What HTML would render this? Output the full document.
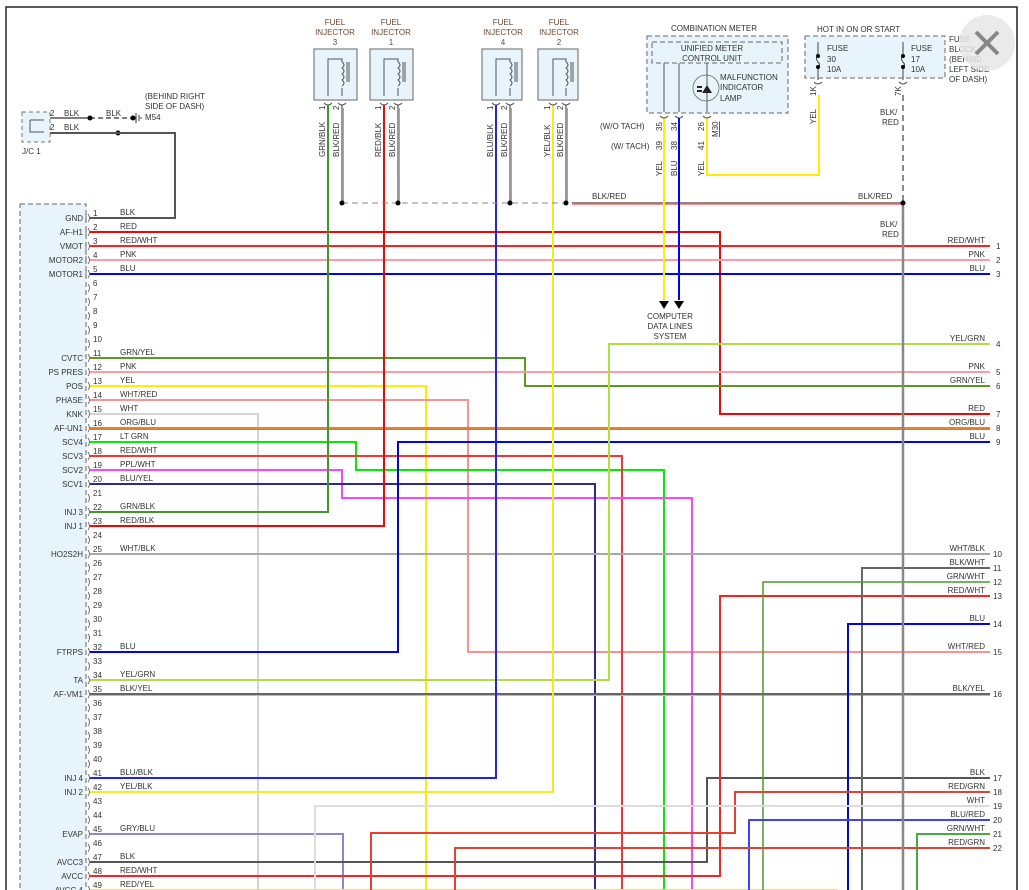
<!DOCTYPE html>
<html><head><meta charset="utf-8"><style>
html,body{margin:0;padding:0;background:#fff;}
svg{display:block;font-family:"Liberation Sans",sans-serif;}
text{font-size:8px;fill:#333;}
.w{fill:none;stroke-width:2;}
.hd{fill:#6a4a30;text-anchor:middle;}
.r{text-anchor:end;}
</style></head><body>
<svg width="1029" height="890" viewBox="0 0 1029 890" xmlns="http://www.w3.org/2000/svg">
<rect x="0" y="0" width="1029" height="890" fill="#fff"/>
<path d="M6 890 V7 H1017 V890" fill="none" stroke="#222" stroke-width="1.5"/>

<!-- J/C 1 -->
<rect x="22" y="112" width="28" height="30" fill="#e8f4fc" stroke="#777" stroke-dasharray="4,3"/>
<path d="M30 120 V132 H44 M30 120 H44" fill="none" stroke="#555"/>
<text x="50" y="116">2</text><text x="50" y="130">2</text>
<text x="64" y="116">BLK</text><text x="64" y="130">BLK</text>
<text x="106" y="116">BLK</text>
<text x="22" y="154">J/C 1</text>
<path d="M50 118 H90" stroke="#555" stroke-width="1.5"/>
<path d="M90 118 H133" stroke="#555" stroke-width="1.5" stroke-dasharray="5,3"/>
<circle cx="90" cy="118" r="2.5" fill="#000"/><circle cx="133" cy="118" r="2.5" fill="#000"/>
<path d="M136 113 V123 M139 115 V121 M141 117 V119" stroke="#333"/>
<text x="145" y="99">(BEHIND RIGHT</text><text x="145" y="109">SIDE OF DASH)</text><text x="145" y="120">M54</text>
<circle cx="118" cy="133" r="2.5" fill="#000"/>

<!-- PCM box -->
<rect x="20" y="204" width="66" height="700" fill="#e8f4fc" stroke="#666" stroke-dasharray="5,3"/>

<!-- wires -->
<g class="w">
<path d="M50 133 H175 V218 H90" stroke="#555"/>
<path d="M90 232 H720 V414 H990" stroke="#ff0000"/>
<path d="M90 246 H990" stroke="#ff2020"/>
<path d="M90 260 H990" stroke="#ff9aa8"/>
<path d="M90 274 H990" stroke="#0000ff"/>
<path d="M90 358 H525 V386 H990" stroke="#5a9a20"/>
<path d="M90 372 H990" stroke="#ff9aa8"/>
<path d="M90 386 H426 V890" stroke="#ffee00"/>
<path d="M90 400 H468 V652 H990" stroke="#ff9090"/>
<path d="M90 414 H258 V890" stroke="#d4d4d4"/>
<path d="M90 428 H990" stroke="#e88030"/>
<path d="M90 429.5 H990" stroke="#8080ff" stroke-width="1"/>
<path d="M90 442 H356 V470 H664 V890" stroke="#00ee00"/>
<path d="M90 456 H622 V890" stroke="#ff3030"/>
<path d="M90 470 H342 V498 H692 V890" stroke="#ff44ff"/>
<path d="M90 484 H595 V890" stroke="#2a2a90"/>
<path d="M90 512 H328 V105" stroke="#3a9a2a"/>
<path d="M90 526 H384 V105" stroke="#ff0000"/>
<path d="M90 554 H990" stroke="#a8a8a8"/>
<path d="M90 652 H398 V442 H990" stroke="#0000ff"/>
<path d="M90 680 H609 V344 H990" stroke="#b0e040"/>
<path d="M90 694 H990" stroke="#666"/>
<path d="M90 695.5 H990" stroke="#cccc30" stroke-width="1"/>
<path d="M90 778 H496 V105" stroke="#2020ff"/>
<path d="M90 792 H553 V105" stroke="#eeee20"/>
<path d="M90 834 H343 V890" stroke="#8888cc"/>
<path d="M90 862 H707 V778 H990" stroke="#555"/>
<path d="M90 876 H720 V596 H990" stroke="#ff2020"/>
<path d="M90 890 H838" stroke="#eeee20"/>
<path d="M990 568 H862 V890" stroke="#666"/>
<path d="M990 582 H763 V890" stroke="#4a9a2a" stroke-width="1.5"/>
<path d="M990 624 H848 V890" stroke="#0000ff"/>
<path d="M990 792 H735 V833 H371 V890" stroke="#e84030"/>
<path d="M990 806 H315 V890" stroke="#dcdcdc"/>
<path d="M990 820 H749 V890" stroke="#4040ff"/>
<path d="M990 834 H917 V890" stroke="#44aa44"/>
<path d="M990 848 H455 V890" stroke="#e84030"/>
<path d="M342 105 V203 M398 105 V203 M510 105 V203 M566 105 V203" stroke="#777" stroke-width="1.5"/>
<path d="M343.5 108 V203 M399.5 108 V203 M511.5 108 V203 M567.5 108 V203" stroke="#ff6060" stroke-width="0.8"/>
<path d="M342 203 H566" stroke="#888" stroke-width="1" stroke-dasharray="6,4"/>
<path d="M572 203 H903" stroke="#888" stroke-width="2"/>
<path d="M572 204.5 H903" stroke="#ff6060" stroke-width="0.8"/>
<path d="M903 95 V203" stroke="#666" stroke-dasharray="6,4" stroke-width="1.5"/>
<path d="M903 203 V890" stroke="#888" stroke-width="2.5"/>
<path d="M664 118 V300" stroke="#ffee00"/>
<path d="M679 118 V300" stroke="#0000ff"/>
<path d="M707 118 V175 H819 V95" stroke="#ffee00"/>
</g>
<g fill="#000">
<circle cx="342" cy="203" r="2.5"/><circle cx="398" cy="203" r="2.5"/><circle cx="510" cy="203" r="2.5"/><circle cx="566" cy="203" r="2.5"/><circle cx="903" cy="203" r="2.5"/>
<path d="M659 301 h10 l-5 8z M674 301 h10 l-5 8z"/>
</g>
<text x="670" y="319" text-anchor="middle">COMPUTER</text>
<text x="670" y="329" text-anchor="middle">DATA LINES</text>
<text x="670" y="339" text-anchor="middle">SYSTEM</text>
<text x="592" y="199">BLK/RED</text>
<text x="858" y="199">BLK/RED</text>
<text x="880" y="115">BLK/</text><text x="882" y="125">RED</text>
<text x="880" y="227">BLK/</text><text x="882" y="237">RED</text>

<!-- injectors -->
<g>
<rect x="314" y="49" width="43" height="51" fill="#e8f4fc" stroke="#666"/>
<rect x="370" y="49" width="43" height="51" fill="#e8f4fc" stroke="#666"/>
<rect x="482" y="49" width="40" height="51" fill="#e8f4fc" stroke="#666"/>
<rect x="538" y="49" width="40" height="51" fill="#e8f4fc" stroke="#666"/>
<g fill="none" stroke="#555" stroke-width="1">
<path d="M328 96 V59 H342 V62 M342 88 V96 M347 62 V82 M349 62 V82"/>
<path d="M384 96 V59 H398 V62 M398 88 V96 M403 62 V82 M405 62 V82"/>
<path d="M496 96 V59 H510 V62 M510 88 V96 M515 62 V82 M517 62 V82"/>
<path d="M553 96 V59 H566 V62 M566 88 V96 M571 62 V82 M573 62 V82"/>
<path d="M342 62 q4 3 0 6 q4 3 0 6 q4 3 0 6 q4 3 0 6 M398 62 q4 3 0 6 q4 3 0 6 q4 3 0 6 q4 3 0 6 M510 62 q4 3 0 6 q4 3 0 6 q4 3 0 6 q4 3 0 6 M566 62 q4 3 0 6 q4 3 0 6 q4 3 0 6 q4 3 0 6"/>
<path d="M324 103 q4 4 8 0 M338 103 q4 4 8 0 M380 103 q4 4 8 0 M394 103 q4 4 8 0 M492 103 q4 4 8 0 M506 103 q4 4 8 0 M549 103 q4 4 8 0 M562 103 q4 4 8 0"/>
</g>
<text class="hd" x="335" y="25">FUEL</text><text class="hd" x="335" y="35">INJECTOR</text><text class="hd" x="335" y="45">3</text>
<text class="hd" x="391" y="25">FUEL</text><text class="hd" x="391" y="35">INJECTOR</text><text class="hd" x="391" y="45">1</text>
<text class="hd" x="503" y="25">FUEL</text><text class="hd" x="503" y="35">INJECTOR</text><text class="hd" x="503" y="45">4</text>
<text class="hd" x="559" y="25">FUEL</text><text class="hd" x="559" y="35">INJECTOR</text><text class="hd" x="559" y="45">2</text>
<g font-size="8">
<text transform="translate(325,157) rotate(-90)">GRN/BLK</text>
<text transform="translate(339,157) rotate(-90)">BLK/RED</text>
<text transform="translate(381,157) rotate(-90)">RED/BLK</text>
<text transform="translate(395,157) rotate(-90)">BLK/RED</text>
<text transform="translate(493,157) rotate(-90)">BLU/BLK</text>
<text transform="translate(507,157) rotate(-90)">BLK/RED</text>
<text transform="translate(550,157) rotate(-90)">YEL/BLK</text>
<text transform="translate(563,157) rotate(-90)">BLK/RED</text>
<text transform="translate(325,110) rotate(-90)">1</text><text transform="translate(339,110) rotate(-90)">2</text>
<text transform="translate(381,110) rotate(-90)">1</text><text transform="translate(395,110) rotate(-90)">2</text>
<text transform="translate(493,110) rotate(-90)">1</text><text transform="translate(507,110) rotate(-90)">2</text>
<text transform="translate(550,110) rotate(-90)">1</text><text transform="translate(563,110) rotate(-90)">2</text>
</g>
</g>

<!-- combination meter -->
<text x="714" y="31" text-anchor="middle">COMBINATION METER</text>
<rect x="647" y="36" width="141" height="77" fill="#e8f4fc" stroke="#666" stroke-dasharray="5,3"/>
<rect x="652" y="42" width="130" height="21" fill="#e8f4fc" stroke="#666" stroke-dasharray="5,3"/>
<text x="712" y="51" text-anchor="middle">UNIFIED METER</text>
<text x="712" y="61" text-anchor="middle">CONTROL UNIT</text>
<circle cx="706" cy="88" r="13" fill="none" stroke="#666" stroke-width="0.8"/>
<path d="M664 63 V112 M679 63 V112 M707 63 V112" stroke="#555" fill="none"/>
<path d="M702 93 L707 85 L712 93 Z" fill="#222"/>
<path d="M697 87 h5 M697 91 h5" stroke="#222" stroke-width="2"/>
<text x="720" y="80">MALFUNCTION</text><text x="720" y="90">INDICATOR</text><text x="720" y="101">LAMP</text>
<path d="M660 116 q4 4 8 0 M675 116 q4 4 8 0 M703 116 q4 4 8 0" fill="none" stroke="#555"/>
<text x="600" y="129">(W/O TACH)</text>
<text x="611" y="149">(W/ TACH)</text>
<text transform="translate(662,131) rotate(-90)">35</text>
<text transform="translate(677,131) rotate(-90)">34</text>
<text transform="translate(704,131) rotate(-90)">26</text>
<text transform="translate(718,137) rotate(-90)" text-decoration="underline">M30</text>
<text transform="translate(662,150) rotate(-90)">39</text>
<text transform="translate(677,150) rotate(-90)">38</text>
<text transform="translate(704,150) rotate(-90)">41</text>
<text transform="translate(662,176) rotate(-90)">YEL</text>
<text transform="translate(677,176) rotate(-90)">BLU</text>
<text transform="translate(704,176) rotate(-90)">YEL</text>

<!-- fuse block -->
<text x="817" y="32">HOT IN ON OR START</text>
<rect x="805" y="36" width="140" height="42" fill="#e8f4fc" stroke="#666" stroke-dasharray="5,3"/>
<path d="M818 42 V55 q-3 4 0 7 q3 3 0 6 V80 M903 42 V55 q-3 4 0 7 q3 3 0 6 V80" fill="none" stroke="#444"/>
<circle cx="818" cy="56" r="2" fill="#000"/><circle cx="818" cy="67" r="2" fill="#000"/>
<circle cx="903" cy="56" r="2" fill="#000"/><circle cx="903" cy="67" r="2" fill="#000"/>
<text x="827" y="51">FUSE</text><text x="827" y="62">30</text><text x="827" y="72">10A</text>
<text x="911" y="51">FUSE</text><text x="911" y="62">17</text><text x="911" y="72">10A</text>
<path d="M814 82 q4 4 8 0 M899 82 q4 4 8 0" fill="none" stroke="#555"/>
<text transform="translate(816,96) rotate(-90)">1K</text>
<text transform="translate(901,96) rotate(-90)">7K</text>
<text transform="translate(816,124) rotate(-90)">YEL</text>
<text x="949" y="42" fill="#999">FUSE</text><text x="949" y="52" fill="#999">BLOCK</text><text x="949" y="62" fill="#999">(BEHIND</text><text x="949" y="72" fill="#999">LEFT SIDE</text><text x="949" y="82" fill="#999">OF DASH)</text>
<circle cx="987" cy="43" r="28" fill="#e6e6e6" opacity="0.85"/>
<path d="M976 32 L998 54 M998 32 L976 54" stroke="#888" stroke-width="4"/>

<!-- PCM pins -->
<g>
<text x="93" y="216">1</text><text x="93" y="230">2</text><text x="93" y="244">3</text><text x="93" y="258">4</text><text x="93" y="272">5</text><text x="93" y="286">6</text><text x="93" y="300">7</text><text x="93" y="314">8</text><text x="93" y="328">9</text><text x="93" y="342">10</text>
<text x="93" y="356">11</text><text x="93" y="370">12</text><text x="93" y="384">13</text><text x="93" y="398">14</text><text x="93" y="412">15</text><text x="93" y="426">16</text><text x="93" y="440">17</text><text x="93" y="454">18</text><text x="93" y="468">19</text><text x="93" y="482">20</text>
<text x="93" y="496">21</text><text x="93" y="510">22</text><text x="93" y="524">23</text><text x="93" y="538">24</text><text x="93" y="552">25</text><text x="93" y="566">26</text><text x="93" y="580">27</text><text x="93" y="594">28</text><text x="93" y="608">29</text><text x="93" y="622">30</text>
<text x="93" y="636">31</text><text x="93" y="650">32</text><text x="93" y="664">33</text><text x="93" y="678">34</text><text x="93" y="692">35</text><text x="93" y="706">36</text><text x="93" y="720">37</text><text x="93" y="734">38</text><text x="93" y="748">39</text><text x="93" y="762">40</text>
<text x="93" y="776">41</text><text x="93" y="790">42</text><text x="93" y="804">43</text><text x="93" y="818">44</text><text x="93" y="832">45</text><text x="93" y="846">46</text><text x="93" y="860">47</text><text x="93" y="874">48</text><text x="93" y="888">49</text>
</g>
<g class="r">
<text class="r" x="83" y="221">GND</text><text class="r" x="83" y="235">AF-H1</text><text class="r" x="83" y="249">VMOT</text><text class="r" x="83" y="263">MOTOR2</text><text class="r" x="83" y="277">MOTOR1</text>
<text class="r" x="83" y="361">CVTC</text><text class="r" x="83" y="375">PS PRES</text><text class="r" x="83" y="389">POS</text><text class="r" x="83" y="403">PHASE</text><text class="r" x="83" y="417">KNK</text><text class="r" x="83" y="431">AF-UN1</text><text class="r" x="83" y="445">SCV4</text><text class="r" x="83" y="459">SCV3</text><text class="r" x="83" y="473">SCV2</text><text class="r" x="83" y="487">SCV1</text>
<text class="r" x="83" y="515">INJ 3</text><text class="r" x="83" y="529">INJ 1</text><text class="r" x="83" y="557">HO2S2H</text><text class="r" x="83" y="655">FTRPS</text><text class="r" x="83" y="683">TA</text><text class="r" x="83" y="697">AF-VM1</text>
<text class="r" x="83" y="781">INJ 4</text><text class="r" x="83" y="795">INJ 2</text><text class="r" x="83" y="837">EVAP</text><text class="r" x="83" y="865">AVCC3</text><text class="r" x="83" y="879">AVCC</text><text class="r" x="83" y="893">AVCC 4</text>
</g>
<g>
<text x="120" y="215">BLK</text><text x="120" y="229">RED</text><text x="120" y="243">RED/WHT</text><text x="120" y="257">PNK</text><text x="120" y="271">BLU</text>
<text x="120" y="355">GRN/YEL</text><text x="120" y="369">PNK</text><text x="120" y="383">YEL</text><text x="120" y="397">WHT/RED</text><text x="120" y="411">WHT</text><text x="120" y="425">ORG/BLU</text><text x="120" y="439">LT GRN</text><text x="120" y="453">RED/WHT</text><text x="120" y="467">PPL/WHT</text><text x="120" y="481">BLU/YEL</text>
<text x="120" y="509">GRN/BLK</text><text x="120" y="523">RED/BLK</text><text x="120" y="551">WHT/BLK</text><text x="120" y="649">BLU</text><text x="120" y="677">YEL/GRN</text><text x="120" y="691">BLK/YEL</text>
<text x="120" y="775">BLU/BLK</text><text x="120" y="789">YEL/BLK</text><text x="120" y="831">GRY/BLU</text><text x="120" y="859">BLK</text><text x="120" y="873">RED/WHT</text><text x="120" y="887">RED/YEL</text>
</g>
<g fill="none" stroke="#555" stroke-width="0.8">
<path d="M86 214 v8 M88 214 q3 4 0 8 M86 228 v8 M88 228 q3 4 0 8 M86 242 v8 M88 242 q3 4 0 8 M86 256 v8 M88 256 q3 4 0 8 M86 270 v8 M88 270 q3 4 0 8 M88 284 q3 4 0 8 M88 298 q3 4 0 8 M88 312 q3 4 0 8 M88 326 q3 4 0 8 M88 340 q3 4 0 8 M88 354 q3 4 0 8 M88 368 q3 4 0 8 M88 382 q3 4 0 8 M88 396 q3 4 0 8 M88 410 q3 4 0 8 M88 424 q3 4 0 8 M88 438 q3 4 0 8 M88 452 q3 4 0 8 M88 466 q3 4 0 8 M88 480 q3 4 0 8 M88 494 q3 4 0 8 M88 508 q3 4 0 8 M88 522 q3 4 0 8 M88 536 q3 4 0 8 M88 550 q3 4 0 8 M88 564 q3 4 0 8 M88 578 q3 4 0 8 M88 592 q3 4 0 8 M88 606 q3 4 0 8 M88 620 q3 4 0 8 M88 634 q3 4 0 8 M88 648 q3 4 0 8 M88 662 q3 4 0 8 M88 676 q3 4 0 8 M88 690 q3 4 0 8 M88 704 q3 4 0 8 M88 718 q3 4 0 8 M88 732 q3 4 0 8 M88 746 q3 4 0 8 M88 760 q3 4 0 8 M88 774 q3 4 0 8 M88 788 q3 4 0 8 M88 802 q3 4 0 8 M88 816 q3 4 0 8 M88 830 q3 4 0 8 M88 844 q3 4 0 8 M88 858 q3 4 0 8 M88 872 q3 4 0 8 M88 886 q3 4 0 8"/>
</g>

<!-- right labels -->
<g>
<text class="r" x="985" y="243">RED/WHT</text><text x="996" y="249">1</text>
<text class="r" x="985" y="257">PNK</text><text x="996" y="263">2</text>
<text class="r" x="985" y="271">BLU</text><text x="996" y="277">3</text>
<text class="r" x="985" y="341">YEL/GRN</text><text x="996" y="347">4</text>
<text class="r" x="985" y="369">PNK</text><text x="996" y="375">5</text>
<text class="r" x="985" y="383">GRN/YEL</text><text x="996" y="389">6</text>
<text class="r" x="985" y="411">RED</text><text x="996" y="417">7</text>
<text class="r" x="985" y="425">ORG/BLU</text><text x="996" y="431">8</text>
<text class="r" x="985" y="439">BLU</text><text x="996" y="445">9</text>
<text class="r" x="985" y="551">WHT/BLK</text><text x="993" y="557">10</text>
<text class="r" x="985" y="565">BLK/WHT</text><text x="993" y="571">11</text>
<text class="r" x="985" y="579">GRN/WHT</text><text x="993" y="585">12</text>
<text class="r" x="985" y="593">RED/WHT</text><text x="993" y="599">13</text>
<text class="r" x="985" y="621">BLU</text><text x="993" y="627">14</text>
<text class="r" x="985" y="649">WHT/RED</text><text x="993" y="655">15</text>
<text class="r" x="985" y="691">BLK/YEL</text><text x="993" y="697">16</text>
<text class="r" x="985" y="775">BLK</text><text x="993" y="781">17</text>
<text class="r" x="985" y="789">RED/GRN</text><text x="993" y="795">18</text>
<text class="r" x="985" y="803">WHT</text><text x="993" y="809">19</text>
<text class="r" x="985" y="817">BLU/RED</text><text x="993" y="823">20</text>
<text class="r" x="985" y="831">GRN/WHT</text><text x="993" y="837">21</text>
<text class="r" x="985" y="845">RED/GRN</text><text x="993" y="851">22</text>
</g>
</svg>
</body></html>
